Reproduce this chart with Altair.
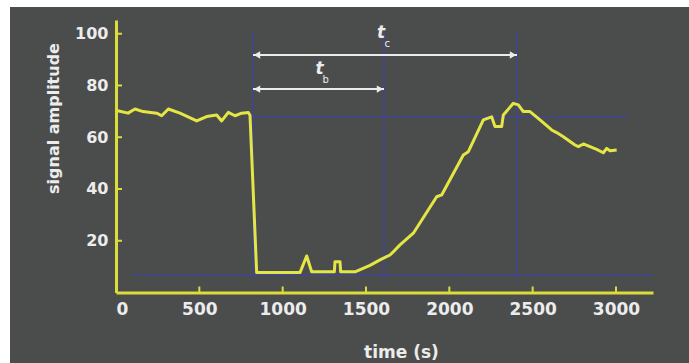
import altair as alt
import pandas as pd

# ---- data ----
time_s = [4, 72, 114, 162, 244, 274, 314, 384, 484, 544, 604, 634, 674, 714, 754, 794, 804,
          844, 1104, 1144, 1174, 1310, 1314, 1344, 1348, 1434, 1524, 1584, 1644, 1674, 1704,
          1784, 1924, 1954, 2084, 2114, 2204, 2254, 2274, 2314, 2324, 2384, 2414, 2444, 2484,
          2544, 2614, 2644, 2684, 2754, 2774, 2804, 2884, 2924, 2944, 2964, 3004]
amplitude = [70.3, 69.3, 70.9, 69.9, 69.3, 68.3, 70.9, 69.3, 66.3, 68.0, 68.6, 66.3, 69.6, 68.3,
             69.3, 69.6, 68.5, 7.7, 7.7, 14.1, 8.0, 8.0, 11.9, 11.9, 8.0, 8.0, 10.5, 12.6, 14.5,
             16.4, 18.4, 22.9, 37.0, 37.7, 53.1, 54.4, 66.7, 67.9, 64.1, 64.1, 68.6, 73.1, 72.5,
             69.9, 69.9, 66.7, 62.8, 61.8, 60.2, 57.0, 56.4, 57.4, 55.3, 54.0, 55.7, 54.8, 55.1]

x_ticks = [0, 500, 1000, 1500, 2000, 2500, 3000]
y_ticks = [20, 40, 60, 80, 100]

# reference (blue) guide lines
vline_x = [822, 1608, 2406]
vline_y = [5, 100.5]
hline_y = [67.8, 6.8]
hline_x0 = [822, 102]
hline_x1 = [3070, 3222]

# interval arrows
arrow_names = ["c", "b"]
arrow_y = [91.8, 78.6]
arrow_x0 = [822, 822]
arrow_x1 = [2406, 1608]
label_t_x = [1590, 1222]
label_t_y = [100.3, 86.5]
label_sub_x = [1628, 1258]
label_sub_y = [96.2, 82.0]

X_DOMAIN = [0, 3222]
Y_DOMAIN = [0, 105.3]
W, H = 537, 272.5
PAD_L, PAD_T = 116, 20

BG = "#4b4c4c"
YELLOW_AX = "#dcdc3a"
YELLOW_LINE = "#e4e644"
BLUE = "#42477f"
WHITE = "#ececec"

df = pd.DataFrame({"t": time_s, "a": amplitude})
xs = alt.Scale(domain=X_DOMAIN, nice=False, zero=False)
ys = alt.Scale(domain=Y_DOMAIN, nice=False, zero=False)

# grey panel with white border at top/left
panel = alt.Chart(pd.DataFrame({"k": [0]})).mark_rect(color=BG).encode(
    x=alt.value(10 - PAD_L), x2=alt.value(689 - PAD_L + 5),
    y=alt.value(7 - PAD_T), y2=alt.value(363 - PAD_T + 5))

vdf = pd.DataFrame({"x": vline_x, "y0": [vline_y[0]] * 3, "y1": [vline_y[1]] * 3})
vlines = alt.Chart(vdf).mark_rule(color=BLUE, strokeWidth=2).encode(
    x=alt.X("x:Q", scale=xs), y=alt.Y("y0:Q", scale=ys), y2="y1:Q")

hdf = pd.DataFrame({"y": hline_y, "x0": hline_x0, "x1": hline_x1})
hlines = alt.Chart(hdf).mark_rule(color=BLUE, strokeWidth=2).encode(
    y=alt.Y("y:Q", scale=ys), x=alt.X("x0:Q", scale=xs), x2="x1:Q")

line = alt.Chart(df).mark_line(color=YELLOW_LINE, strokeWidth=3, strokeJoin="round").encode(
    x=alt.X("t:Q", scale=xs,
            axis=alt.Axis(values=x_ticks, format="d", title="time (s)", grid=False, tickSize=0,
                          domainColor=YELLOW_AX, domainWidth=3, labelColor=WHITE,
                          labelFont="DejaVu Sans", labelFontWeight="bold", labelFontSize=17,
                          labelPadding=9, titleColor=WHITE, titleFont="DejaVu Sans",
                          titleFontWeight="bold", titleFontSize=17, titleX=285, titleY=60,
                          titleBaseline="middle", zindex=1)),
    y=alt.Y("a:Q", scale=ys,
            axis=alt.Axis(values=y_ticks, format="d", title="signal amplitude", grid=False,
                          tickSize=0, domainColor=YELLOW_AX, domainWidth=3, labelColor=WHITE,
                          labelFont="DejaVu Sans", labelFontWeight="bold", labelFontSize=16,
                          labelPadding=8, titleColor=WHITE, titleFont="DejaVu Sans",
                          titleFontWeight="bold", titleFontSize=16, titleX=-63, titleY=98,
                          titleAngle=270, titleAlign="center", titleBaseline="middle",
                          zindex=1)))

xt = alt.Chart(pd.DataFrame({"v": x_ticks})).mark_rule(color=YELLOW_AX, strokeWidth=2).encode(
    x=alt.X("v:Q", scale=xs), y=alt.value(H), y2=alt.value(H - 6))
yt = alt.Chart(pd.DataFrame({"v": y_ticks})).mark_rule(color=YELLOW_AX, strokeWidth=2).encode(
    y=alt.Y("v:Q", scale=ys), x=alt.value(0), x2=alt.value(6))

adf = pd.DataFrame({"n": arrow_names, "y": arrow_y, "x0": arrow_x0, "x1": arrow_x1,
                    "tx": label_t_x, "ty": label_t_y, "sx": label_sub_x, "sy": label_sub_y})
arrows = alt.Chart(adf).mark_rule(color=WHITE, strokeWidth=2).encode(
    y=alt.Y("y:Q", scale=ys), x=alt.X("x0:Q", scale=xs), x2="x1:Q")
head_l = alt.Chart(adf).mark_point(shape="triangle-left", filled=True, color=WHITE,
                                   size=55, opacity=1).encode(
    y=alt.Y("y:Q", scale=ys), x=alt.X("x0:Q", scale=xs), xOffset=alt.value(4))
head_r = alt.Chart(adf).mark_point(shape="triangle-right", filled=True, color=WHITE,
                                   size=55, opacity=1).encode(
    y=alt.Y("y:Q", scale=ys), x=alt.X("x1:Q", scale=xs), xOffset=alt.value(-4))
t_lab = alt.Chart(adf).mark_text(text="t", font="DejaVu Sans", fontStyle="italic",
                                 fontWeight="bold", fontSize=17, color=WHITE).encode(
    x=alt.X("tx:Q", scale=xs), y=alt.Y("ty:Q", scale=ys))
s_lab = alt.Chart(adf).mark_text(font="DejaVu Sans", fontSize=10, color=WHITE).encode(
    x=alt.X("sx:Q", scale=xs), y=alt.Y("sy:Q", scale=ys), text="n:N")

chart = alt.layer(panel, vlines, hlines, arrows, head_l, head_r, t_lab, s_lab, xt, yt, line).properties(
    width=W, height=H,
    autosize=alt.AutoSizeParams(type="none"),
    padding={"left": PAD_L, "top": PAD_T, "right": 689 - PAD_L - W, "bottom": 363 - PAD_T - H},
    background="white",
).configure_view(stroke=None, fill=None)

chart.save("out.html", embed_options={"renderer": "svg", "actions": False})
